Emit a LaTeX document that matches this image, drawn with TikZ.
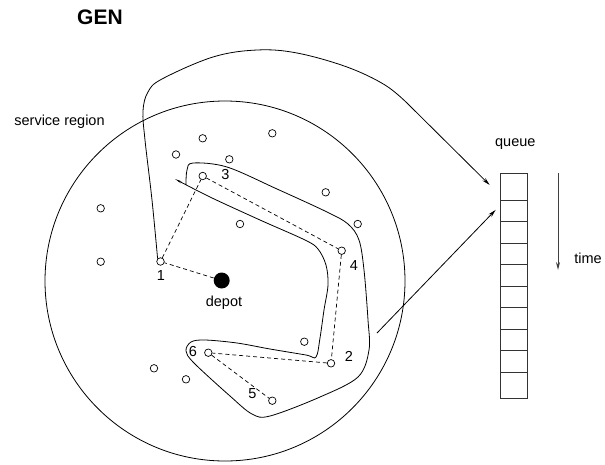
\documentclass[tikz,border=0pt]{standalone}
\usepackage{fontspec}
\setsansfont{Liberation Sans}
\usetikzlibrary{arrows.meta, positioning}

\tikzset{
  every picture/.style={font=\sffamily, line width=0.8pt},
  site/.style={circle, draw, inner sep=0pt, minimum size=7.5pt, line width=0.7pt},
  hub/.style={circle, fill, inner sep=0pt, minimum size=16pt},
  leg/.style={draw, dash pattern=on 4pt off 3pt, line width=0.7pt},
  tip/.style={-{Stealth[length=8pt, width=4pt]}},
  lbl/.style={anchor=base, font=\sffamily\fontsize{14.5}{17}\selectfont},
  title/.style={anchor=base, font=\sffamily\bfseries\fontsize{21}{24}\selectfont},
}

\begin{document}
\begin{tikzpicture}[x=1pt, y=-1pt]
  \useasboundingbox (0,0) rectangle (605,464);

  \node[title] (gen) at (100,24) {GEN};

  % service region
  \draw (225,281) circle [radius=180pt];
  \node[lbl] (region) at (59.5,125.5) {service region};

  % depot and the customers on the tour
  \node[hub] (depot) at (221.7,280.5) {};
  \node[lbl] at (224,306.5) {depot};
  \node[site] (s1) at (160.5,261.5) {};
  \node[site] (s2) at (331,363.3) {};
  \node[site] (s3) at (202.7,176) {};
  \node[site] (s4) at (341.7,250.7) {};
  \node[site] (s5) at (272.3,400.7) {};
  \node[site] (s6) at (208.3,352.7) {};
  \node[lbl] at (161,280.7) {1};
  \node[lbl] at (348.8,361) {2};
  \node[lbl] at (225.5,179.3) {3};
  \node[lbl] at (354,270) {4};
  \node[lbl] at (252.5,398.3) {5};
  \node[lbl] at (193,356.7) {6};

  % waiting customers
  \foreach \x/\y [count=\i] in {176/154.5, 202.7/138.3, 272.3/133.3, 229.3/159.3,
      325.7/192.3, 357.7/224, 240/224, 100.7/208.3, 100.7/261.7,
      154/368.3, 186/379.3, 304.3/341.7}
    \node[site] (o\i) at (\x,\y) {};

  % tour
  \draw[leg] (depot) -- (s1) -- (s3) -- (s4) -- (s2) -- (s6) -- (s5);

  % queue
  \node[draw, black!80, minimum width=27pt, minimum height=225pt, inner sep=0pt]
    (queue) at (513.5,285.8) {};
  \foreach \y in {200,221.5,243,264.5,286,307.5,329,350.5,372}
    \draw[black!80] (500,\y) -- (527,\y);
  \node[lbl] (qlabel) at (515.3,146.5) {queue};
  \coordinate (qin1) at ([xshift=-10pt, yshift=-12pt]queue.north west);
  \coordinate (qin2) at ([xshift=-4pt, yshift=-37pt]queue.north west);

  % time axis
  \coordinate (t0) at (558,173);
  \coordinate (t1) at (558,270);
  \draw[tip, black!75, line width=1pt] (t0) -- (t1);
  \node[lbl] (tlabel) at (588,263) {time};

  % band around the tour
  \draw[-{Stealth[length=7pt, width=2pt]}] plot[smooth, tension=0.55] coordinates {
      (186,184) (187,170) (193,163) (227,167) (277,189) (327,212) (348,224)
      (359,240) (364,270) (368,320) (369,350) (358,377) (320,397) (270,416)
      (252,414) (230,396) (194,363) (186,351) (191,342) (205,340) (237,343)
      (270,349) (306,355) (316,357) (320,338) (324,310) (328,285) (326,265)
      (318,249) (305,240) (260,220) (210,197) (175,179)};

  % customer 1 sent to the queue
  \draw[tip] plot[smooth, tension=0.6] coordinates {
      (s1.north west) (152,200) (145,140) (143,111) (148,92) (162,79)
      (213,57) (257,50) (297,53) (347,67) (385,85) (408,104)} -- (qin1);

  % new arrival
  \coordinate (feed) at (377,333);
  \draw[tip] (feed) -- (qin2);
\end{tikzpicture}
\end{document}
